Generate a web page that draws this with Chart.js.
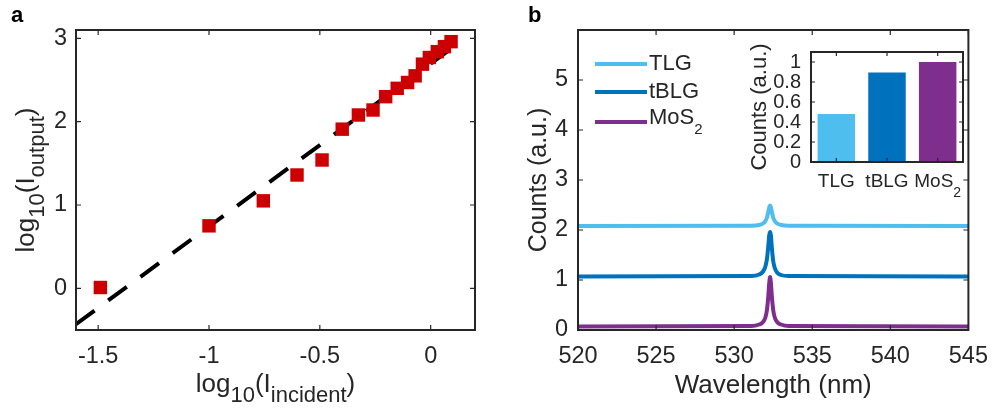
<!DOCTYPE html>
<html><head><meta charset="utf-8">
<script src="https://cdn.jsdelivr.net/npm/chart.js@4.4.1/dist/chart.umd.min.js"></script>
<style>
html,body{margin:0;padding:0;background:#fff;}
#wrap{position:relative;width:1000px;height:411px;overflow:hidden;background:#fff;}
.c{position:absolute;}
</style></head><body>
<div id="wrap">
<div class="c" style="left:0;top:0;width:500px;height:411px"><canvas id="ca" width="500" height="411"></canvas></div>
<div class="c" style="left:500px;top:0;width:500px;height:411px"><canvas id="cb" width="500" height="411"></canvas></div>
<div class="c" style="left:740px;top:30px;width:240px;height:180px"><canvas id="cc" width="240" height="180"></canvas></div>
</div>
<script>
// ---------- Panel a data ----------
const incidentLog = [-1.49, -1.0, -0.755, -0.603, -0.49, -0.399, -0.326, -0.26, -0.203, -0.151, -0.104, -0.07, -0.037, -0.006, 0.03, 0.062, 0.092];
const outputLog   = [0.01, 0.75, 1.05, 1.36, 1.54, 1.91, 2.08, 2.14, 2.30, 2.40, 2.47, 2.55, 2.69, 2.77, 2.84, 2.90, 2.96];
const fitX = [-1.6, 0.135];
const fitY = [-0.43, 2.96];
const xTicksA = [-1.5, -1, -0.5, 0];
const yTicksA = [0, 1, 2, 3];

// ---------- Panel b data ----------
const wavelength = [520, 531.1, 531.6, 531.85, 532.0, 532.1, 532.18, 532.25, 532.3, 532.35, 532.42, 532.5, 532.6, 532.75, 533.0, 533.5, 545];
const countsTLG  = [2.08, 2.085, 2.10, 2.13, 2.18, 2.25, 2.35, 2.46, 2.49, 2.46, 2.35, 2.25, 2.18, 2.13, 2.10, 2.085, 2.08];
const countsTBLG = [1.07, 1.08, 1.11, 1.17, 1.27, 1.42, 1.66, 1.90, 1.96, 1.90, 1.62, 1.38, 1.24, 1.15, 1.10, 1.08, 1.07];
const countsMoS2 = [0.07, 0.08, 0.11, 0.16, 0.25, 0.40, 0.65, 0.95, 1.06, 0.95, 0.65, 0.40, 0.25, 0.16, 0.11, 0.08, 0.07];
const seriesNames = ['TLG', 'tBLG', 'MoS_2'];
const xTicksB = [520, 525, 530, 535, 540, 545];
const yTicksB = [0, 1, 2, 3, 4, 5];

// ---------- Inset data ----------
const insetCategories = ['TLG', 'tBLG', 'MoS_2'];
const insetCounts = [0.48, 0.895, 1.0];
const yTicksInset = [0, 0.2, 0.4, 0.6, 0.8, 1];

// ---------- styles ----------
const FONT = '"Liberation Sans", Arial, Helvetica, sans-serif';
const AX = '#262626';
const COLORS = ['#4DBEEE', '#0072BD', '#7E2F8E'];
const RED = '#cc0000';

function parseRich(s){
  const segs=[]; let i=0, buf='';
  while(i<s.length){
    if(s[i]==='_'){
      if(buf){segs.push({t:buf,sub:false});buf='';}
      i++;
      if(s[i]==='{'){const j=s.indexOf('}',i);segs.push({t:s.slice(i+1,j),sub:true});i=j+1;}
      else {segs.push({t:s[i],sub:true});i++;}
    } else {buf+=s[i];i++;}
  }
  if(buf)segs.push({t:buf,sub:false});
  return segs;
}
function drawRich(ctx, s, x, y, o){
  const segs=parseRich(s);
  const w8=o.weight||'normal';
  const fm=`${w8} ${o.size}px ${FONT}`, fs=`${w8} ${o.subSize||o.size}px ${FONT}`;
  let w=0; segs.forEach(g=>{ctx.font=g.sub?fs:fm; g.w=ctx.measureText(g.t).width; w+=g.w;});
  ctx.save(); ctx.translate(x,y); if(o.rotate) ctx.rotate(o.rotate);
  ctx.fillStyle=o.color||AX; ctx.textBaseline=o.baseline||'alphabetic'; ctx.textAlign='left';
  let cx = o.align==='left'?0:-w/2;
  segs.forEach(g=>{ctx.font=g.sub?fs:fm; ctx.fillText(g.t,cx,g.sub?(o.subDy||0):0); cx+=g.w;});
  ctx.restore();
}

// MATLAB-like box with inward ticks + extra text
const matlabAxes = {
  id:'matlabAxes',
  afterDatasetsDraw(chart, args, opts){
    const {ctx, chartArea:a} = chart;
    const xs=chart.scales.x, ys=chart.scales.y, L=opts.tickLen||5;
    ctx.save();
    ctx.strokeStyle=AX; ctx.lineWidth=1.2;
    ctx.beginPath();
    xs.ticks.forEach((t,i)=>{const p=xs.getPixelForTick(i);
      ctx.moveTo(p,a.bottom);ctx.lineTo(p,a.bottom-L);ctx.moveTo(p,a.top);ctx.lineTo(p,a.top+L);});
    ys.ticks.forEach((t,i)=>{const p=ys.getPixelForTick(i);
      ctx.moveTo(a.left,p);ctx.lineTo(a.left+L,p);ctx.moveTo(a.right,p);ctx.lineTo(a.right-L,p);});
    ctx.stroke();
    ctx.lineWidth=opts.boxWidth||2;
    ctx.strokeRect(a.left,a.top,a.right-a.left,a.bottom-a.top);
    ctx.restore();
    if(opts.draw) opts.draw(chart);
  }
};

function tickFont(size){return {family:FONT,size:size};}
function baseScale(min,max,ticks,size,pad,fit){
  return {type:'linear',min,max,
    afterBuildTicks:s=>{s.ticks=ticks.map(v=>({value:v}));},
    afterFit:fit,
    grid:{display:false,drawTicks:false},border:{display:false},
    ticks:{color:AX,font:tickFont(size),padding:pad,maxRotation:0,autoSkip:false,callback:v=>String(v)}};
}

// ---------- Chart a ----------
new Chart(document.getElementById('ca'),{
  type:'scatter',
  data:{datasets:[
    {label:'data',data:incidentLog.map((x,i)=>({x,y:outputLog[i]})),pointStyle:'rect',pointRadius:9.5,
     pointBackgroundColor:RED,pointBorderWidth:0,showLine:false},
    {label:'fit',data:fitX.map((x,i)=>({x,y:fitY[i]})),showLine:true,borderColor:'#000',borderWidth:4,
     borderDash:[23,17],borderCapStyle:'butt',pointRadius:0,fill:false}
  ]},
  options:{responsive:false,animation:false,events:[],
    layout:{padding:{top:30,right:25,left:0,bottom:0}},
    plugins:{legend:{display:false},tooltip:{enabled:false},
      matlabAxes:{tickLen:5,boxWidth:2,draw:(chart)=>{
        const ctx=chart.ctx,a=chart.chartArea;
        drawRich(ctx,'log_{10}(I_{incident})',(a.left+a.right)/2,392,{size:26,subSize:22,subDy:10});
        drawRich(ctx,'log_{10}(I_{output})',34,(a.top+a.bottom)/2,{size:26,subSize:22,subDy:10,rotate:-Math.PI/2});
        drawRich(ctx,'a',11,21.5,{size:22,weight:'bold',align:'left',color:'#000'});
      }}},
    scales:{
      x:baseScale(-1.6,0.2,xTicksA,23.5,12,s=>{s.height=81;}),
      y:baseScale(-0.5,3.1,yTicksA,23.5,9,s=>{s.width=76;})
    }},
  plugins:[matlabAxes]
});

// ---------- Chart b ----------
const specSets=[countsTLG,countsTBLG,countsMoS2];
new Chart(document.getElementById('cb'),{
  type:'line',
  data:{datasets:specSets.map((arr,k)=>({label:seriesNames[k],data:wavelength.map((x,i)=>({x,y:arr[i]})),
    borderColor:COLORS[k],borderWidth:4,pointRadius:0,fill:false,cubicInterpolationMode:'monotone',order:3-k}))},
  options:{responsive:false,animation:false,events:[],
    layout:{padding:{top:30,right:22,left:0,bottom:0}},
    plugins:{legend:{display:false},tooltip:{enabled:false},
      matlabAxes:{tickLen:5,boxWidth:2,draw:(chart)=>{
        const ctx=chart.ctx,a=chart.chartArea;
        drawRich(ctx,'Wavelength (nm)',(a.left+a.right)/2,393,{size:26});
        drawRich(ctx,'Counts (a.u.)',46,(a.top+a.bottom)/2,{size:25,rotate:-Math.PI/2});
        drawRich(ctx,'b',28,21.5,{size:22,weight:'bold',align:'left',color:'#000'});
        const ly=[64,92,122], ty=[64,92,118];
        seriesNames.forEach((n,k)=>{
          ctx.save();ctx.strokeStyle=COLORS[k];ctx.lineWidth=4;ctx.beginPath();
          ctx.moveTo(95,ly[k]);ctx.lineTo(147,ly[k]);ctx.stroke();ctx.restore();
          drawRich(ctx,n,149,ty[k],{size:22,subSize:15,subDy:12,align:'left',baseline:'middle'});
        });
      }}},
    scales:{
      x:baseScale(520,545,xTicksB,23.5,12,s=>{s.height=81;}),
      y:baseScale(0,6,yTicksB,23.5,10,s=>{s.width=78;})
    }},
  plugins:[matlabAxes]
});

// ---------- Inset ----------
new Chart(document.getElementById('cc'),{
  type:'bar',
  data:{labels:insetCategories,datasets:[{label:'Counts',data:insetCounts,backgroundColor:COLORS,
    borderWidth:0,barPercentage:0.74,categoryPercentage:1}]},
  options:{responsive:false,animation:false,events:[],
    layout:{padding:{top:17,right:17,left:0,bottom:0}},
    plugins:{legend:{display:false},tooltip:{enabled:false},
      matlabAxes:{tickLen:4,boxWidth:2,draw:(chart)=>{
        const ctx=chart.ctx,a=chart.chartArea,xs=chart.scales.x;
        insetCategories.forEach((c,i)=>{
          drawRich(ctx,c,xs.getPixelForValue(i),157,{size:19,subSize:14,subDy:10});
        });
        drawRich(ctx,'Counts (a.u.)',26,(a.top+a.bottom)/2,{size:22,rotate:-Math.PI/2});
      }}},
    scales:{
      x:{type:'category',offset:true,afterFit:s=>{s.height=48;},grid:{display:false,drawTicks:false},
         border:{display:false},ticks:{display:false}},
      y:baseScale(0,1.1,yTicksInset,20,10,s=>{s.width=71;})
    }},
  plugins:[matlabAxes]
});
</script>
</body></html>
